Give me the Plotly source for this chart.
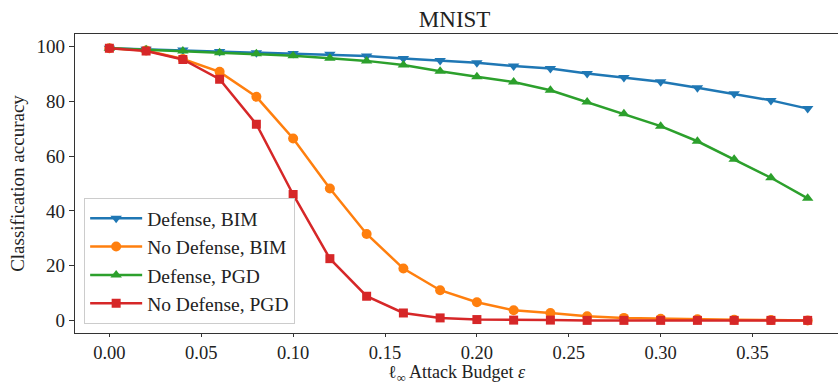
import plotly.graph_objects as go

eps = [0.00, 0.02, 0.04, 0.06, 0.08, 0.10, 0.12, 0.14, 0.16, 0.18,
       0.20, 0.22, 0.24, 0.26, 0.28, 0.30, 0.32, 0.34, 0.36, 0.38]

defense_bim = [99.3, 98.9, 98.7, 98.1, 97.7, 97.4, 97.1, 96.5, 95.6, 94.8,
               94.0, 92.8, 91.9, 90.1, 88.6, 87.1, 84.9, 82.7, 80.3, 77.3]
no_defense_bim = [99.3, 98.5, 95.4, 90.7, 81.6, 66.4, 48.2, 31.6, 19.0, 11.1,
                  6.7, 3.8, 2.8, 1.6, 1.0, 0.7, 0.5, 0.3, 0.2, 0.1]
defense_pgd = [99.3, 98.8, 98.3, 97.7, 97.3, 96.6, 95.7, 94.7, 93.2, 90.9,
               88.9, 87.0, 84.0, 79.7, 75.4, 70.9, 65.4, 58.8, 52.1, 44.6]
no_defense_pgd = [99.3, 98.3, 95.2, 88.0, 71.6, 46.0, 22.6, 8.9, 2.8, 1.0,
                  0.4, 0.2, 0.2, 0.1, 0.1, 0.1, 0.1, 0.1, 0.1, 0.1]

series = [
    ("Defense, BIM", defense_bim, "#1f77b4", "triangle-down"),
    ("No Defense, BIM", no_defense_bim, "#ff7f0e", "circle"),
    ("Defense, PGD", defense_pgd, "#2ca02c", "triangle-up"),
    ("No Defense, PGD", no_defense_pgd, "#d62728", "square"),
]

FONT = "Liberation Serif"
TXT = "#222222"

fig = go.Figure()
for name, vals, color, sym in series:
    fig.add_trace(go.Scatter(
        x=eps, y=vals, name=name, mode="lines+markers",
        line=dict(color=color, width=2.5),
        marker=dict(symbol=sym, size=10 if sym != "square" else 9, color=color),
    ))

fig.update_layout(
    width=838, height=384,
    margin=dict(l=75, r=0, t=34, b=51),
    paper_bgcolor="white", plot_bgcolor="white",
    font=dict(family=FONT, size=19, color=TXT),
    title=dict(text="MNIST", x=0.5425, xanchor="center", y=0.95, yanchor="middle",
               font=dict(family=FONT, size=23, color=TXT)),
    showlegend=True,
    legend=dict(x=0.012, y=0.03, xanchor="left", yanchor="bottom",
                bgcolor="rgba(255,255,255,0.8)", bordercolor="#cccccc", borderwidth=1,
                font=dict(family=FONT, size=19.5, color=TXT),
                tracegroupgap=0, itemwidth=52),
    annotations=[dict(
        text="ℓ<sub>∞</sub> Attack Budget <i>ε</i>", xref="paper", yref="paper",
        x=0.5, y=-0.134, xanchor="center", yanchor="middle", showarrow=False,
        font=dict(family=FONT, size=18, color=TXT),
    )],
)

fig.update_xaxes(
    range=[-0.0187, 0.3965],
    tickvals=[0.0, 0.05, 0.10, 0.15, 0.20, 0.25, 0.30, 0.35],
    ticktext=["0.00", "0.05", "0.10", "0.15", "0.20", "0.25", "0.30", "0.35"],
    tickfont=dict(family=FONT, size=18.5, color=TXT),
    ticks="outside", ticklen=3, tickwidth=1.2, tickcolor="#333",
    showline=True, linecolor="#333", linewidth=1.4, mirror=True,
    showgrid=False, zeroline=False,
)
fig.update_yaxes(
    range=[-4.5, 104.5],
    tickvals=[0, 20, 40, 60, 80, 100],
    tickfont=dict(family=FONT, size=19, color=TXT),
    ticks="outside", ticklen=5, tickwidth=1.2, tickcolor="#333",
    showline=True, linecolor="#333", linewidth=1.4, mirror=False,
    showgrid=False, zeroline=False,
    title=dict(text="Classification accuracy", standoff=6,
               font=dict(family=FONT, size=19, color=TXT)),
)

fig.write_html("out.html")
